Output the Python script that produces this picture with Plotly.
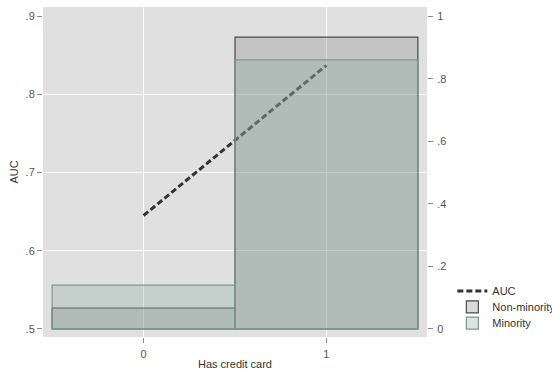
import plotly.graph_objects as go

# data
has_card = [0, 1]
auc = [0.645, 0.837]
share_nonminority = [0.067, 0.933]
share_minority = [0.14, 0.86]

auc_ticks = [0.5, 0.6, 0.7, 0.8, 0.9]
auc_ticktext = [".5", ".6", ".7", ".8", ".9"]
share_ticks = [0, 0.2, 0.4, 0.6, 0.8, 1]
share_ticktext = ["0", ".2", ".4", ".6", ".8", "1"]

FONT = "Liberation Sans, Arial, sans-serif"
TICK_COLOR = "#8a8a8a"
LABEL_COLOR = "#555555"

fig = go.Figure()

# line first so the translucent bars sit over it, as in the original
fig.add_trace(go.Scatter(
    x=has_card, y=auc, name="AUC", mode="lines",
    line=dict(color="#333333", width=3, dash="6px,3px"),
    yaxis="y", legend="legend",
))
fig.add_trace(go.Bar(
    x=has_card, y=share_nonminority, name="Non-minority", width=1,
    marker=dict(color="rgba(140,140,140,0.33)",
                line=dict(color="#4a4a4a", width=1.2)),
    yaxis="y2", legend="legend2",
))
fig.add_trace(go.Bar(
    x=has_card, y=share_minority, name="Minority", width=1,
    marker=dict(color="rgba(130,165,151,0.29)",
                line=dict(color="#789a8e", width=1.2)),
    yaxis="y2", legend="legend3",
))


def legend_box(y):
    # one legend per item so the rows sit closer than plotly's default spacing
    return dict(
        x=1.066, y=y, xanchor="left", yanchor="top",
        font=dict(size=11, color="#333333"),
        bgcolor="rgba(0,0,0,0)",
    )


fig.update_layout(
    width=552, height=371,
    margin=dict(l=43, r=125, t=7, b=34, autoexpand=False),
    paper_bgcolor="white",
    plot_bgcolor="#e0e0e0",
    barmode="overlay",
    font=dict(family=FONT, size=11, color=LABEL_COLOR),
    showlegend=True,
    legend=legend_box(0.183),
    legend2=legend_box(0.135),
    legend3=legend_box(0.086),
    xaxis=dict(
        range=[-0.55, 1.55], tickvals=has_card, ticktext=["0", "1"],
        ticks="outside", ticklen=5, tickcolor=TICK_COLOR,
        ticklabelstandoff=2,
        showgrid=True, gridcolor="white", gridwidth=1.2,
        zeroline=False, showline=False, automargin=False,
        title=dict(text="Has credit card", standoff=1,
                   font=dict(size=11, color="#333333")),
    ),
    yaxis=dict(
        range=[0.4897, 0.9115], tickvals=auc_ticks, ticktext=auc_ticktext,
        ticks="outside", ticklen=5, tickcolor=TICK_COLOR,
        showgrid=False, zeroline=False, showline=False, automargin=False,
        minor=dict(tickmode="array", tickvals=[0.6, 0.7, 0.8],
                   showgrid=True, gridcolor="white", gridwidth=1.2,
                   ticks=""),
        title=dict(text="AUC", standoff=4,
                   font=dict(size=11, color="#333333")),
    ),
    yaxis2=dict(
        range=[-0.0256, 1.029], tickvals=share_ticks, ticktext=share_ticktext,
        overlaying="y", side="right",
        ticks="outside", ticklen=5, tickcolor=TICK_COLOR,
        ticklabelstandoff=2,
        showgrid=False, zeroline=False, showline=False, automargin=False,
    ),
)

# drop the default body margin so the 552x371 figure fills the window exactly
fig.write_html(
    "out.html",
    config={"displayModeBar": False},
    post_script="document.body.style.margin='0px';"
                "document.body.style.overflow='hidden';",
)
